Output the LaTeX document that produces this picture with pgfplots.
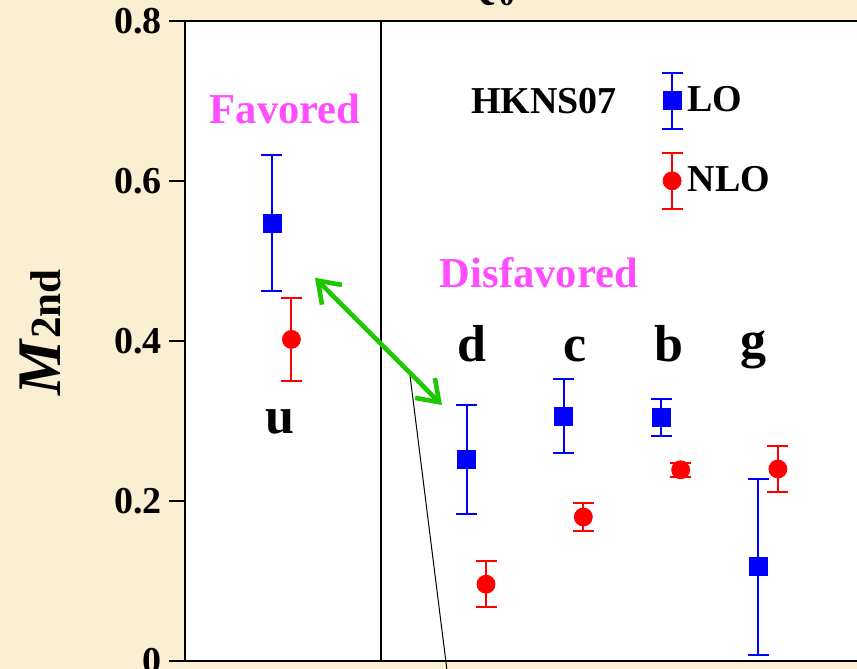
\documentclass[border=0pt]{standalone}
\usepackage{fontspec}
\setmainfont{Liberation Serif}
\usepackage{pgfplots}
\usepackage{pgfplotstable}
\pgfplotsset{compat=1.18}
\usetikzlibrary{arrows.meta}

\definecolor{parchment}{RGB}{250,238,211}
\definecolor{lblmag}{RGB}{255,77,255}
\definecolor{arrowgreen}{RGB}{30,200,0}

% second moments M_2nd: flavour position, value, uncertainty
\pgfplotstableread{
x    y      e
0    0.547  0.085
2    0.252  0.068
3    0.306  0.046
4    0.304  0.023
5    0.118  0.110
}\lotable
\pgfplotstableread{
x    y      e
0.2  0.402  0.052
2.2  0.096  0.029
3.2  0.180  0.018
4.2  0.239  0.009
5.2  0.240  0.029
}\nlotable

\begin{document}
\begin{tikzpicture}
\useasboundingbox (-92.5pt,-4pt) rectangle (336pt,330.5pt);
\clip (-92.5pt,-4pt) rectangle (336pt,330.5pt);
\fill[parchment] (-92.5pt,-4pt) rectangle (336pt,330.5pt);
\begin{axis}[
  at={(0,0)}, anchor=south west,
  x=48.65pt, y=400pt,
  xmin=-0.894, xmax=6.6, ymin=0, ymax=0.8,
  axis background/.style={fill=white},
  axis line style={line width=1.3pt},
  xtick=\empty,
  ytick={0,0.2,0.4,0.6,0.8},
  yticklabels={\textbf{0},\textbf{0.2},\textbf{0.4},\textbf{0.6},\textbf{0.8}},
  ytick pos=left, tick align=outside, major tick length=7.8pt,
  every tick/.style={black, line width=0.6pt},
  yticklabel style={font=\fontsize{19pt}{19pt}\selectfont, inner sep=0pt, xshift=-3.5pt},
  ylabel={\fontsize{31pt}{31pt}\selectfont\textbf{\textit{M}}{\fontsize{21.5pt}{21.5pt}\selectfont\textbf{2nd}}},
  every axis y label/.style={at={(axis description cs:-0.1714,0.5133)}, rotate=90, anchor=base},
  clip=false,
  legend style={draw=none, fill=none, at={(axis cs:3.99,0.737)}, anchor=north west,
    inner sep=0pt, font=\fontsize{19pt}{19pt}\selectfont\bfseries,
    row sep=11pt, column sep=0pt},
  legend cell align=left,
]
% frame divider between favoured and disfavoured channels
\draw[line width=1.3pt] (axis cs:1.12,0) -- (axis cs:1.12,0.8);

\addplot[blue, only marks, mark=square*, mark size=4.5pt,
  legend image code/.code={
    \draw[blue, line width=1pt] (0pt,-14pt) -- (0pt,14pt)
      (-5.25pt,-14pt) -- (5.25pt,-14pt) (-5.25pt,14pt) -- (5.25pt,14pt);
    \fill[blue] (-4.5pt,-4.5pt) rectangle (4.5pt,4.5pt);
  },
  error bars/.cd, y dir=both, y explicit,
  error bar style={line width=1pt},
  error mark options={rotate=90, line width=1pt, mark size=5.25pt}]
  table[x=x, y=y, y error=e]{\lotable};
\addlegendentry{LO}

\addplot[red, only marks, mark=*, mark size=4.5pt,
  legend image code/.code={
    \draw[red, line width=1pt] (0pt,-14pt) -- (0pt,14pt)
      (-5.25pt,-14pt) -- (5.25pt,-14pt) (-5.25pt,14pt) -- (5.25pt,14pt);
    \fill[red] (0pt,0pt) circle (4.5pt);
  },
  error bars/.cd, y dir=both, y explicit,
  error bar style={line width=1pt},
  error mark options={rotate=90, line width=1pt, mark size=5.25pt}]
  table[x=x, y=y, y error=e]{\nlotable};
\addlegendentry{NLO}

% annotations
\node[anchor=base, font=\fontsize{21.3pt}{21.3pt}\selectfont\bfseries, text=lblmag] at (axis cs:0.134,0.6725) {Favored};
\node[anchor=base, font=\fontsize{21.3pt}{21.3pt}\selectfont\bfseries, text=lblmag] at (axis cs:2.744,0.4675) {Disfavored};
\node[anchor=base, font=\fontsize{19pt}{19pt}\selectfont\bfseries] at (axis cs:2.795,0.685) {HKNS07};

\node[anchor=base, font=\fontsize{26pt}{26pt}\selectfont\bfseries] at (axis cs:0.087,0.285) {u};
\node[anchor=base, font=\fontsize{26pt}{26pt}\selectfont\bfseries] at (axis cs:2.055,0.374) {d};
\node[anchor=base, font=\fontsize{26pt}{26pt}\selectfont\bfseries] at (axis cs:3.114,0.374) {c};
\node[anchor=base, font=\fontsize{26pt}{26pt}\selectfont\bfseries] at (axis cs:4.075,0.374) {b};
\node[anchor=base, font=\fontsize{26pt}{26pt}\selectfont\bfseries] at (axis cs:4.949,0.380) {g};

\draw[line width=0.5pt] (axis cs:1.418,0.3575) -- (axis cs:1.799,-0.012);
\draw[arrowgreen, line width=2.3pt,
  {Straight Barb[length=10pt,width=14pt]}-{Straight Barb[length=10pt,width=14pt]}]
  (axis cs:0.442,0.479) -- (axis cs:1.747,0.32);
\end{axis}
\node[anchor=base west, inner sep=0pt, font=\fontsize{22pt}{22pt}\selectfont\bfseries] at (141pt,331pt) {\textit{Q}\textsubscript{0}};
\end{tikzpicture}
\end{document}
